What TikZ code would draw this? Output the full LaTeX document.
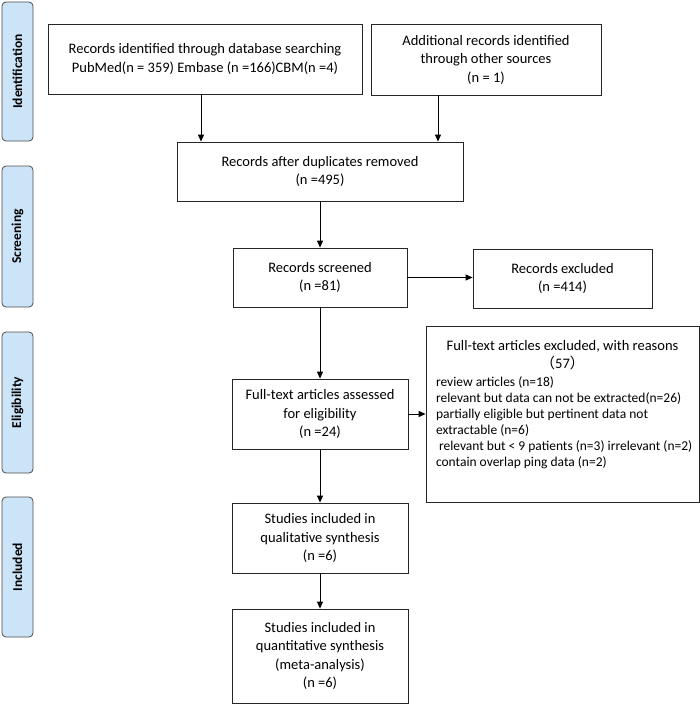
\documentclass[tikz,border=0pt]{standalone}
\usepackage{fontspec}
\setmainfont{Carlito}
\newfontfamily\cjk{Noto Sans CJK SC}
\usetikzlibrary{arrows.meta}
\definecolor{phasefill}{RGB}{204,228,247}

\begin{document}
\begin{tikzpicture}[x=1pt, y=-1pt, ->, >={Triangle[length=7pt,width=6pt]}, line width=1pt,
  box/.style={draw=black!85, line width=0.8pt, align=center, inner sep=0pt,
    font=\fontsize{14.5}{18.5}\selectfont},
  phase/.style={draw=black!70, fill=phasefill, line width=0.8pt, rounded corners=4pt,
    rotate=90, inner sep=0pt, minimum height=31pt, font=\bfseries\fontsize{13.5}{15}\selectfont}]
\useasboundingbox (0,0) rectangle (700,709);

\node (ident) [phase, minimum width=139pt] at (17.5,71.5) {Identification};
\node (screen) [phase, minimum width=141pt] at (17.5,236.5) {Screening};
\node (elig) [phase, minimum width=141pt] at (17.5,402.5) {Eligibility};
\node (incl) [phase, minimum width=140pt] at (17.5,567) {Included};

\node (dbsearch) [box, minimum width=314pt, minimum height=70pt] at (205,59)
  {Records identified through database searching\\PubMed(n = 359) Embase (n =166)CBM(n =4)};
\node (other) [box, minimum width=230pt, minimum height=71pt] at (486,59.5)
  {Additional records identified\\through other sources\\(n = 1)};
\node (dupl) [box, minimum width=286pt, minimum height=59pt] at (320,171.5)
  {Records after duplicates removed\\(n =495)};
\node (screened) [box, minimum width=174pt, minimum height=59pt] at (320,277.5)
  {Records screened\\(n =81)};
\node (excluded) [box, minimum width=179pt, minimum height=59pt] at (562.5,278.5)
  {Records excluded\\(n =414)};
\node (fulltext) [box, minimum width=176pt, minimum height=70pt] at (320,414)
  {Full-text articles assessed\\for eligibility\\(n =24)};
\node (ftexcl) [box, inner xsep=10pt, inner ysep=14pt, anchor=north] at (562.5,326)
  {\begin{minipage}[t][148pt][t]{253pt}
   \centering Full-text articles excluded, with reasons\\{\cjk （}57{\cjk ）}\par
   \vspace{2pt}\raggedright\fontsize{13.5}{16}\selectfont
   review articles (n=18)\\
   relevant but data can not be extracted(n=26)\\
   partially eligible but pertinent data not\\
   extractable (n=6)\\
   \mbox{\hspace*{3pt}relevant but < 9 patients (n=3) irrelevant (n=2)}\\
   contain overlap ping data (n=2)
   \end{minipage}};
\node (qual) [box, minimum width=176pt, minimum height=70pt] at (320,538)
  {Studies included in\\qualitative synthesis\\(n =6)};
\node (quant) [box, minimum width=176pt, minimum height=94pt] at (320,656)
  {Studies included in\\quantitative synthesis\\(meta-analysis)\\(n =6)};

\path ([xshift=-4pt]dbsearch.south) edge ([xshift=-4pt]dbsearch.south |- dupl.north);
\path ([xshift=-48pt]other.south) edge ([xshift=-48pt]other.south |- dupl.north);
\path (dupl) edge (screened);
\path (screened) edge (screened -| excluded.west);
\path (screened) edge (fulltext);
\path (fulltext) edge (fulltext -| ftexcl.west);
\path (fulltext) edge (qual);
\path (qual) edge (quant);
\end{tikzpicture}
\end{document}
